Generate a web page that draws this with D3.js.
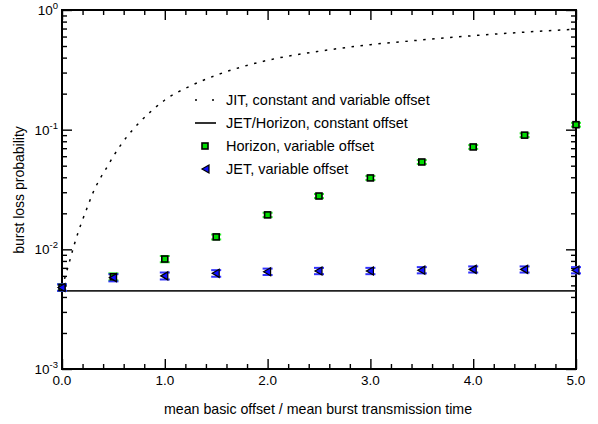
<!DOCTYPE html>
<html>
<head>
<meta charset="utf-8">
<script src="https://cdn.jsdelivr.net/npm/d3@7"></script>
<style>
  body { margin: 0; background: #fff; }
  svg { font-family: "Liberation Sans", Arial, sans-serif; }
</style>
</head>
<body>
<div id="chart"></div>
<script>
// Chart size
var svgWidth = 598;
var svgHeight = 424;

var margin = { top: 10, right: 22, bottom: 55, left: 62 };
var width = svgWidth - margin.left - margin.right;
var height = svgHeight - margin.top - margin.bottom;

// Data
var offsets = [0, 0.5, 1.0, 1.5, 2.0, 2.5, 3.0, 3.5, 4.0, 4.5, 5.0];
var horizonVar = [0.0048, 0.0059, 0.0083, 0.0127, 0.0194, 0.0279, 0.0395, 0.0537, 0.0717, 0.090, 0.11];
var horizonErr = [0.0003, 0.0004, 0.0005, 0.0006, 0.0008, 0.0011, 0.0015, 0.002, 0.0026, 0.0033, 0.004];
var jetVar = [0.0048, 0.0058, 0.0060, 0.0063, 0.0065, 0.0066, 0.0066, 0.0067, 0.0068, 0.0068, 0.0067];
var jetErr = [0.0003, 0.0004, 0.0004, 0.0004, 0.0004, 0.0004, 0.0004, 0.0004, 0.0004, 0.0004, 0.0004];

var jitX = [0, 0.04, 0.08, 0.12, 0.18, 0.25, 0.3, 0.37, 0.44, 0.5, 0.63, 0.75, 0.88, 1.0,
            1.25, 1.5, 1.75, 2.0, 2.5, 3.0, 3.5, 4.0, 4.5, 5.0];
var jitY = [0.0048, 0.0063, 0.0083, 0.011, 0.0158, 0.0229, 0.0295, 0.039, 0.049, 0.060, 0.087, 0.114,
            0.146, 0.177, 0.232, 0.285, 0.335, 0.380, 0.452, 0.513, 0.562, 0.610, 0.653, 0.692];

var constOffset = 0.0045;

var xTicks = [0, 1, 2, 3, 4, 5];
var yExponents = [-3, -2, -1, 0];

var legendLabels = [
  "JIT, constant and variable offset",
  "JET/Horizon, constant offset",
  "Horizon, variable offset",
  "JET, variable offset"
];

var svg = d3.select("#chart")
  .append("svg")
  .attr("width", svgWidth)
  .attr("height", svgHeight);

var xScale = d3.scaleLinear().domain([0, 5]).range([margin.left, margin.left + width]);
var yScale = d3.scaleLog().domain([1e-3, 1]).range([margin.top + height, margin.top]);

// minor ticks
var xMinor = d3.range(0, 5.01, 0.2).filter(d => Math.abs(d - Math.round(d)) > 1e-6);
var yMinor = [];
yExponents.slice(0, -1).forEach(function(e) {
  for (var k = 2; k <= 9; k++) yMinor.push(k * Math.pow(10, e));
});
var yMajor = yExponents.map(e => Math.pow(10, e));

function styleAxis(g) {
  g.select(".domain").remove();
  g.selectAll(".tick line").attr("stroke", "#000").attr("stroke-width", 1.4);
  g.selectAll(".tick text").remove();
}

var bottomY = margin.top + height;
var rightX = margin.left + width;

// x axes (bottom and top), ticks inward
svg.append("g").attr("transform", `translate(0,${bottomY})`)
  .call(d3.axisBottom(xScale).tickValues(xTicks).tickSize(-10)).call(styleAxis);
svg.append("g").attr("transform", `translate(0,${bottomY})`)
  .call(d3.axisBottom(xScale).tickValues(xMinor).tickSize(-5)).call(styleAxis);
svg.append("g").attr("transform", `translate(0,${margin.top})`)
  .call(d3.axisTop(xScale).tickValues(xTicks).tickSize(-10)).call(styleAxis);
svg.append("g").attr("transform", `translate(0,${margin.top})`)
  .call(d3.axisTop(xScale).tickValues(xMinor).tickSize(-5)).call(styleAxis);

// y axes (left and right)
svg.append("g").attr("transform", `translate(${margin.left},0)`)
  .call(d3.axisLeft(yScale).tickValues(yMajor).tickSize(-10)).call(styleAxis);
svg.append("g").attr("transform", `translate(${margin.left},0)`)
  .call(d3.axisLeft(yScale).tickValues(yMinor).tickSize(-5)).call(styleAxis);
svg.append("g").attr("transform", `translate(${rightX},0)`)
  .call(d3.axisRight(yScale).tickValues(yMajor).tickSize(-10)).call(styleAxis);
svg.append("g").attr("transform", `translate(${rightX},0)`)
  .call(d3.axisRight(yScale).tickValues(yMinor).tickSize(-5)).call(styleAxis);

// frame
svg.append("rect")
  .attr("x", margin.left).attr("y", margin.top)
  .attr("width", width).attr("height", height)
  .attr("fill", "none").attr("stroke", "#000").attr("stroke-width", 2);

// x tick labels
svg.append("g").selectAll("text")
  .data(xTicks).enter().append("text")
  .attr("x", d => xScale(d))
  .attr("y", bottomY + 16)
  .attr("text-anchor", "middle")
  .attr("font-size", 13.5)
  .text(d => d.toFixed(1));

// y tick labels with superscript
var yLab = svg.append("g").selectAll("text")
  .data(yExponents).enter().append("text")
  .attr("x", margin.left - 4)
  .attr("y", d => yScale(Math.pow(10, d)) + 5)
  .attr("text-anchor", "end")
  .attr("font-size", 13.5);
yLab.append("tspan").text("10");
yLab.append("tspan").attr("dy", -6).attr("font-size", 9.5).text(d => String(d));

// axis titles
svg.append("text")
  .attr("x", 318).attr("y", 414)
  .attr("text-anchor", "middle")
  .attr("font-size", 14.2)
  .text("mean basic offset / mean burst transmission time");

svg.append("text")
  .attr("transform", "translate(24,190) rotate(-90)")
  .attr("text-anchor", "middle")
  .attr("font-size", 14)
  .text("burst loss probability");

// JIT dotted curve
var jitData = jitX.map((x, i) => ({ x: x, y: jitY[i] }));
var line = d3.line().x(d => xScale(d.x)).y(d => yScale(d.y)).curve(d3.curveMonotoneX);
svg.append("path")
  .datum(jitData)
  .attr("d", line)
  .attr("fill", "none")
  .attr("stroke", "#000")
  .attr("stroke-width", 1.5)
  .attr("stroke-dasharray", "2.5,6.5");

// constant offset line
svg.append("line")
  .attr("x1", xScale(0)).attr("x2", xScale(5))
  .attr("y1", yScale(constOffset)).attr("y2", yScale(constOffset))
  .attr("stroke", "#222").attr("stroke-width", 1.6);

// error bars
function errorBars(vals, errs, capColor) {
  var g = svg.append("g");
  offsets.forEach(function(x, i) {
    var cx = xScale(x);
    var y0 = yScale(vals[i] - errs[i]);
    var y1 = yScale(vals[i] + errs[i]);
    g.append("line").attr("x1", cx).attr("x2", cx).attr("y1", y0).attr("y2", y1)
      .attr("stroke", "#000").attr("stroke-width", 1);
    [y0, y1].forEach(function(yy) {
      g.append("line").attr("x1", cx - 5).attr("x2", cx + 5).attr("y1", yy).attr("y2", yy)
        .attr("stroke", capColor).attr("stroke-width", 2);
    });
  });
}
errorBars(horizonVar, horizonErr, "#33ee33");
errorBars(jetVar, jetErr, "#3333ff");

// markers
function squareMark(sel) {
  sel.attr("width", 6).attr("height", 6)
    .attr("fill", "#00dd00").attr("stroke", "#000").attr("stroke-width", 1.6);
}
var triPath = "M-4,0L3,-4L3,4Z";
function triMark(sel) {
  sel.attr("d", triPath).attr("fill", "#1010ff").attr("stroke", "#000").attr("stroke-width", 1.2);
}

svg.append("g").selectAll("rect")
  .data(horizonVar).enter().append("rect")
  .attr("x", (d, i) => xScale(offsets[i]) - 3)
  .attr("y", d => yScale(d) - 3)
  .call(squareMark);

svg.append("g").selectAll("path")
  .data(jetVar).enter().append("path")
  .attr("transform", (d, i) => `translate(${xScale(offsets[i])},${yScale(d)})`)
  .call(triMark);

// legend
var legend = svg.append("g");
var rowY = [100, 123, 146, 169];
legendLabels.forEach(function(lbl, i) {
  legend.append("text")
    .attr("x", 226).attr("y", rowY[i] + 5)
    .attr("font-size", 14.5)
    .text(lbl);
});
legend.append("line")
  .attr("x1", 195).attr("x2", 216).attr("y1", rowY[0]).attr("y2", rowY[0])
  .attr("stroke", "#000").attr("stroke-width", 1.5).attr("stroke-dasharray", "2,15");
legend.append("line")
  .attr("x1", 195).attr("x2", 216).attr("y1", rowY[1]).attr("y2", rowY[1])
  .attr("stroke", "#000").attr("stroke-width", 1.6);
legend.append("rect")
  .attr("x", 202).attr("y", rowY[2] - 3)
  .call(squareMark);
legend.append("path")
  .attr("transform", `translate(206,${rowY[3]})`)
  .call(triMark);
</script>
</body>
</html>
